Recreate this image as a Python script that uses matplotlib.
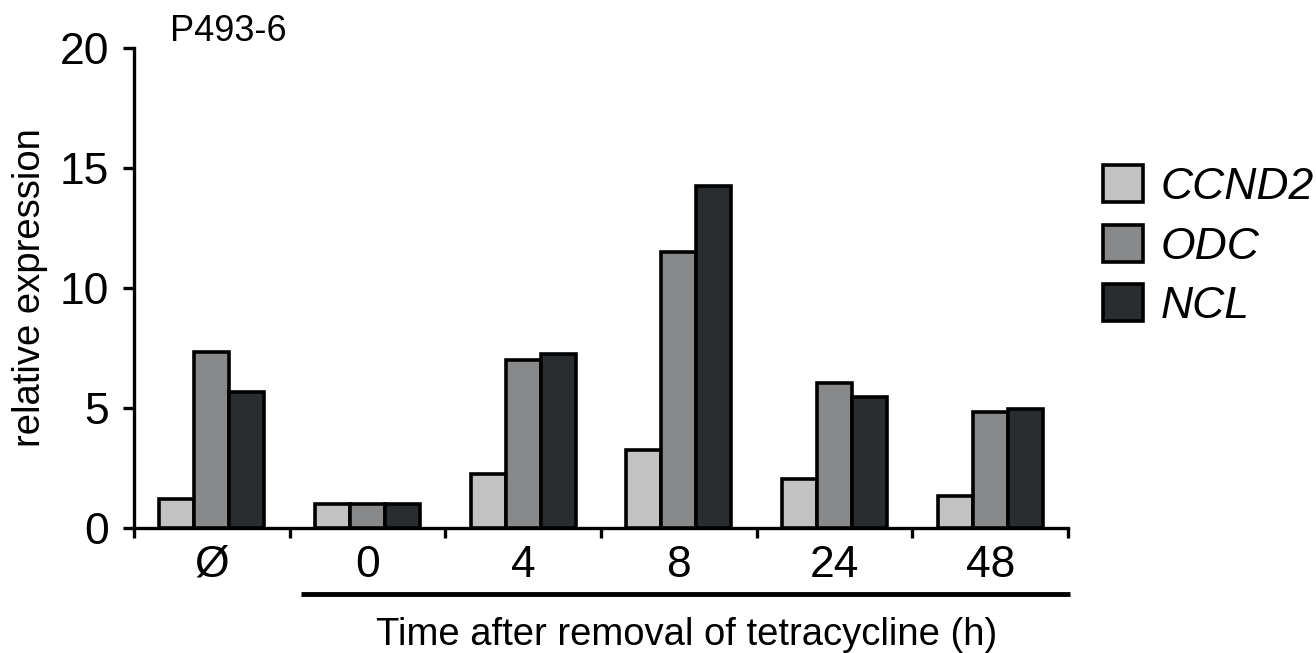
import numpy as np
import matplotlib
matplotlib.use("Agg")
from matplotlib import pyplot as plt
import matplotlib.transforms as mtransforms

plt.rcParams['font.family'] = ['Liberation Sans', 'DejaVu Sans']

groups = ["\u00d8", "0", "4", "8", "24", "48"]
genes = ["CCND2", "ODC", "NCL"]
ccnd2 = [1.2, 1.0, 2.25, 3.25, 2.05, 1.35]
odc = [7.35, 1.0, 7.0, 11.5, 6.05, 4.85]
ncl = [5.65, 1.0, 7.25, 14.25, 5.45, 4.95]
colors = ["#c1c2c1", "#88898b", "#2a2d30"]

fig = plt.figure(figsize=(13.16, 6.53), dpi=100)
ax = fig.add_axes([0.1018, 0.1914, 0.7098, 0.7351])

x = np.arange(len(groups))
w = 0.225
for i, (vals, name) in enumerate(zip([ccnd2, odc, ncl], genes)):
    ax.bar(x + (i - 1) * w, vals, width=w, color=colors[i], edgecolor="black",
           linewidth=2.6, label=name, zorder=3)

ax.set_xlim(-0.5, 5.5)
ax.set_ylim(0, 20)
ax.set_yticks([0, 5, 10, 15, 20])
ax.set_xticks(np.arange(-0.5, 6, 1))
ax.set_xticklabels([])
ax.set_xticks(x, minor=True)
ax.set_xticklabels(groups, minor=True)
ax.tick_params(axis="x", which="minor", length=0, labelsize=32, pad=12)
ax.tick_params(axis="x", which="major", length=7, width=2.4, direction="out")
ax.tick_params(axis="y", length=8, width=2.4, labelsize=32, pad=10)
for s in ["top", "right"]:
    ax.spines[s].set_visible(False)
for s in ["left", "bottom"]:
    ax.spines[s].set_linewidth(2.4)

ax.set_ylabel("relative expression", fontsize=27.5, labelpad=8)
fig.text(0.129, 0.952, "P493-6", fontsize=26, ha="left", va="center")

# line spanning the time points
trans = mtransforms.blended_transform_factory(ax.transData, fig.transFigure)
ax.plot([0.571, 5.513], [0.0904, 0.0904], color="black", linewidth=3.5,
        transform=trans, clip_on=False, solid_capstyle="butt")
fig.text(0.5215, 0.027, "Time after removal of tetracycline (h)", fontsize=27.5,
         ha="center", va="center")

leg = ax.legend(loc="upper left", bbox_to_anchor=(1.0375, 0.756), frameon=False,
                prop={"size": 32, "style": "italic"}, handlelength=0.9,
                handleheight=0.9, handletextpad=0.4, labelspacing=0.38,
                borderaxespad=0, borderpad=0)
for h in leg.legend_handles:
    h.set_linewidth(2.6)

fig.savefig("out.png", dpi=100)
